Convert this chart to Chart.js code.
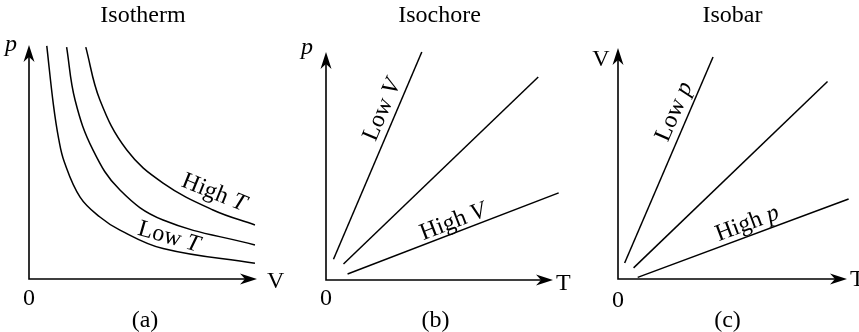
<!DOCTYPE html>
<html>
<head>
<meta charset="utf-8">
<script src="https://cdn.jsdelivr.net/npm/chart.js@4/dist/chart.umd.min.js"></script>
<style>
  body { margin: 0; background: #fff; width: 859px; height: 332px; position: relative; overflow: hidden; }
  canvas { position: absolute; top: 0; }
</style>
</head>
<body>
<canvas id="isotherm" width="290" height="332" style="left:0px"></canvas>
<canvas id="isochore" width="290" height="332" style="left:290px"></canvas>
<canvas id="isobar" width="279" height="332" style="left:580px"></canvas>
<script>
// (a) Isotherm: pressure against volume, three temperatures
const isothermLowV = [0.78, 1.07, 1.3, 1.55, 2.24, 3.11, 3.99, 5.88, 9.91];
const isothermLowP = [9.96, 7.45, 6.0, 5.0, 3.50, 2.65, 2.09, 1.30, 0.67];
const isothermMidV = [1.65, 2.02, 2.81, 3.99, 5.88, 9.91];
const isothermMidP = [9.91, 7.65, 5.51, 3.80, 2.52, 1.45];
const isothermHighV = [2.49, 3.11, 4.29, 5.88, 8.07, 9.91];
const isothermHighP = [9.91, 7.65, 5.51, 4.10, 2.95, 2.31];

// (b) Isochore: pressure against temperature, three volumes
const isochoreLowT = [0.33, 4.22];
const isochoreLowP = [0.91, 10.0];
const isochoreMidT = [0.77, 9.35];
const isochoreMidP = [0.70, 8.90];
const isochoreHighT = [0.95, 10.25];
const isochoreHighP = [0.26, 3.82];

// (c) Isobar: volume against temperature, three pressures
const isobarLowT = [0.29, 4.15];
const isobarLowV = [0.69, 9.61];
const isobarMidT = [0.68, 9.15];
const isobarMidV = [0.48, 8.55];
const isobarHighT = [0.86, 10.07];
const isobarHighV = [0.07, 3.46];

const FONT = '24px "Liberation Serif", "Times New Roman", serif';
const ITALIC = 'italic 24px "Liberation Serif", "Times New Roman", serif';

function toPoints(xs, ys) {
    return xs.map((x, i) => ({ x: x, y: ys[i] }));
}

function curve(xs, ys, smooth) {
    return {
        data: toPoints(xs, ys),
        borderColor: '#000',
        borderWidth: 1.5,
        pointRadius: 0,
        showLine: true,
        clip: false,
        tension: smooth ? 0.4 : 0
    };
}

// text made of plain and italic pieces, centred on (x, y)
function drawParts(ctx, parts, x, y, angle, align, baseline) {
    ctx.save();
    ctx.translate(x, y);
    ctx.rotate((angle || 0) * Math.PI / 180);
    let total = 0;
    parts.forEach((p) => {
        ctx.font = p.italic ? ITALIC : FONT;
        p.w = ctx.measureText(p.text).width;
        total += p.w;
    });
    let cx = align === 'left' ? 0 : -total / 2;
    ctx.textBaseline = baseline || 'alphabetic';
    ctx.textAlign = 'left';
    parts.forEach((p) => {
        ctx.font = p.italic ? ITALIC : FONT;
        ctx.fillText(p.text, cx, 0);
        cx += p.w;
    });
    ctx.restore();
}

function arrowHead(ctx, x, y, dir) {
    ctx.save();
    ctx.translate(x, y);
    if (dir === 'right') ctx.rotate(Math.PI / 2);
    ctx.beginPath();
    ctx.moveTo(0, 0);
    ctx.lineTo(5.5, 17);
    ctx.lineTo(0, 12);
    ctx.lineTo(-5.5, 17);
    ctx.closePath();
    ctx.fill();
    ctx.restore();
}

// axes with arrows and all the lettering
const diagramText = {
    id: 'diagramText',
    afterDraw(chart, args, opts) {
        const ctx = chart.ctx;
        const a = chart.chartArea;
        const xs = chart.scales.x;
        const ys = chart.scales.y;
        ctx.save();
        ctx.fillStyle = '#000';
        ctx.strokeStyle = '#000';
        ctx.lineWidth = 1.6;
        ctx.beginPath();
        ctx.moveTo(a.left, a.top + 10);
        ctx.lineTo(a.left, a.bottom);
        ctx.lineTo(a.right - 10, a.bottom);
        ctx.stroke();
        arrowHead(ctx, a.left, a.top, 'up');
        arrowHead(ctx, a.right, a.bottom, 'right');

        const mid = (a.left + a.right) / 2;
        drawParts(ctx, [{ text: opts.title }], mid + opts.titleShift, 22);
        drawParts(ctx, [{ text: opts.caption }], mid + opts.captionShift, 327);
        drawParts(ctx, [{ text: '0' }], a.left, opts.zeroY);
        drawParts(ctx, [opts.yLabel], opts.yLabelX, opts.yLabelY);
        drawParts(ctx, [opts.xLabel], opts.xLabelX, opts.xLabelY, 0, 'left');

        opts.labels.forEach((l) => {
            drawParts(ctx, l.parts, xs.getPixelForValue(l.x), ys.getPixelForValue(l.y), l.angle, 'center', 'middle');
        });
        ctx.restore();
    }
};

function makePanel(id, datasets, padding, text) {
    return new Chart(document.getElementById(id), {
        type: 'scatter',
        data: { datasets: datasets },
        options: {
            responsive: false,
            animation: false,
            layout: { padding: padding },
            scales: {
                x: { type: 'linear', min: 0, max: 10, display: false },
                y: { type: 'linear', min: 0, max: 10, display: false }
            },
            plugins: {
                legend: { display: false },
                tooltip: { enabled: false },
                diagramText: text
            }
        },
        plugins: [diagramText]
    });
}

makePanel('isotherm', [
    curve(isothermLowV, isothermLowP, true),
    curve(isothermMidV, isothermMidP, true),
    curve(isothermHighV, isothermHighP, true)
], { left: 29, right: 33, top: 45, bottom: 53 }, {
    title: 'Isotherm', titleShift: 0,
    caption: '(a)', captionShift: 2,
    zeroY: 305,
    yLabel: { text: 'p', italic: true }, yLabelX: 11, yLabelY: 51,
    xLabel: { text: 'V' }, xLabelX: 267, xLabelY: 288,
    labels: [
        { parts: [{ text: 'High ' }, { text: 'T', italic: true }], x: 8.11, y: 3.68, angle: 22 },
        { parts: [{ text: 'Low ' }, { text: 'T', italic: true }], x: 6.14, y: 1.79, angle: 16 }
    ]
});

makePanel('isochore', [
    curve(isochoreLowT, isochoreLowP, false),
    curve(isochoreMidT, isochoreMidP, false),
    curve(isochoreHighT, isochoreHighP, false)
], { left: 36, right: 27, top: 52, bottom: 52 }, {
    title: 'Isochore', titleShift: 0,
    caption: '(b)', captionShift: -4,
    zeroY: 305,
    yLabel: { text: 'p', italic: true }, yLabelX: 17, yLabelY: 54,
    xLabel: { text: 'T' }, xLabelX: 266, xLabelY: 290,
    labels: [
        { parts: [{ text: 'Low ' }, { text: 'V', italic: true }], x: 2.48, y: 7.45, angle: -67 },
        { parts: [{ text: 'High ' }, { text: 'V', italic: true }], x: 5.6, y: 2.54, angle: -21 }
    ]
});

makePanel('isobar', [
    curve(isobarLowT, isobarLowV, false),
    curve(isobarMidT, isobarMidV, false),
    curve(isobarHighT, isobarHighV, false)
], { left: 38, right: 12, top: 48, bottom: 53 }, {
    title: 'Isobar', titleShift: 0,
    caption: '(c)', captionShift: -5,
    zeroY: 307,
    yLabel: { text: 'V' }, yLabelX: 21, yLabelY: 66,
    xLabel: { text: 'T' }, xLabelX: 270, xLabelY: 286,
    labels: [
        { parts: [{ text: 'Low ' }, { text: 'p', italic: true }], x: 2.46, y: 7.24, angle: -66.6 },
        { parts: [{ text: 'High ' }, { text: 'p', italic: true }], x: 5.65, y: 2.39, angle: -20.5 }
    ]
});
</script>
</body>
</html>
